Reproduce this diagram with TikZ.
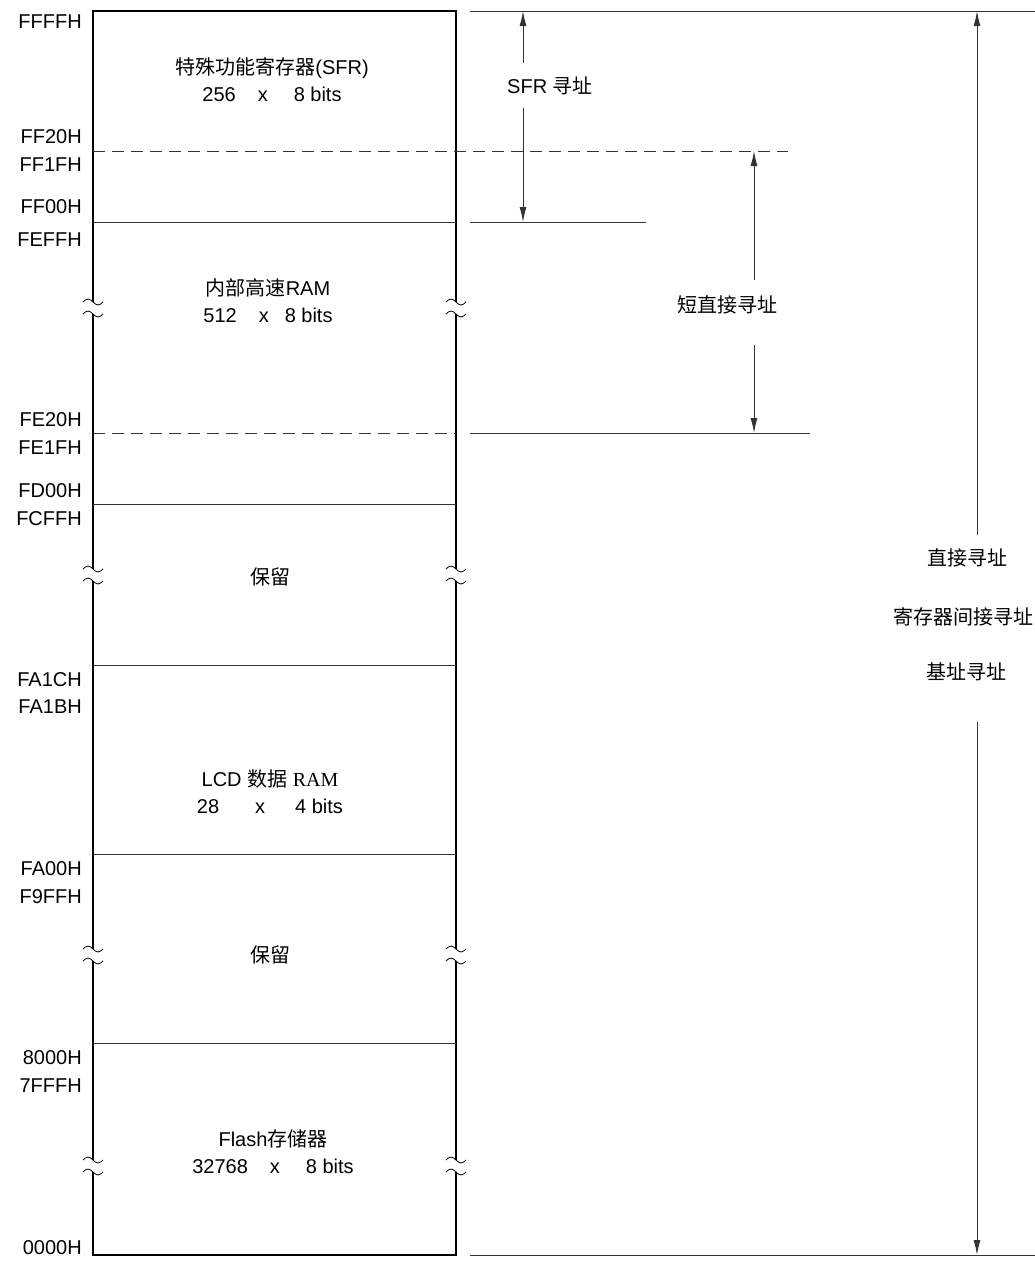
\documentclass[tikz,border=0pt]{standalone}
\usepackage{fontspec}
\setmainfont{Liberation Sans}
\newfontfamily\cjk{Noto Sans CJK SC}
\newfontfamily\serifrm{Liberation Serif}
\usetikzlibrary{arrows.meta}

\tikzset{
  addr/.style={anchor=east, font=\fontsize{20}{22}\selectfont, inner sep=0pt},
  region/.style={font=\fontsize{20}{27}\selectfont, align=center, inner sep=0pt},
  scope lbl/.style={font=\fontsize{20}{22}\selectfont, inner sep=0pt},
  cjk lbl/.style={font=\cjk\fontsize{20}{22}\selectfont, inner sep=0pt},
  thinline/.style={line width=1pt, black!80},
  boxline/.style={line width=2pt, black},
  arr/.style={thinline, -{Latex[length=15pt,width=7pt]}}
}

\newcommand{\brkmark}[2]{%
  \draw[line width=0.8pt] (#1-10,#2-6) sin (#1-5,#2-9) cos (#1,#2-6) sin (#1+5,#2-3) cos (#1+10,#2-6);
  \draw[line width=0.8pt] (#1-10,#2+6) sin (#1-5,#2+3) cos (#1,#2+6) sin (#1+5,#2+9) cos (#1+10,#2+6);
}

\begin{document}
\begin{tikzpicture}[x=1pt,y=-1pt]
    \useasboundingbox (0,0) rectangle (1035,1262);

    % Memory box outline (edges broken at the gaps)
    \draw[boxline] (93,11) -- (456,11);
    \draw[boxline] (93,1255) -- (456,1255);
    \foreach \ex in {93,456} {
      \draw[boxline] (\ex,10) -- (\ex,302);
      \draw[boxline] (\ex,314) -- (\ex,569);
      \draw[boxline] (\ex,581) -- (\ex,949);
      \draw[boxline] (\ex,961) -- (\ex,1160);
      \draw[boxline] (\ex,1172) -- (\ex,1256);
      \foreach \gy in {308,575,955,1166} {
        \brkmark{\ex}{\gy}
      }
    }

    % Region boundaries
    \foreach \by in {222,504,665,854,1043} {
      \draw[thinline] (93,\by) -- (456,\by);
    }
    \draw[thinline, dash pattern=on 12pt off 7pt] (93,151) -- (788,151);
    \draw[thinline, dash pattern=on 12pt off 7pt] (93,433) -- (456,433);

    % Addresses
    \foreach \lbl/\ay in {FFFFH/22, FF20H/137, FF1FH/165, FF00H/207, FEFFH/240,
        FE20H/420, FE1FH/448, FD00H/491, FCFFH/519, FA1CH/680, FA1BH/707,
        FA00H/869, F9FFH/897, 8000H/1058, 7FFFH/1086, 0000H/1248} {
      \node[addr] (a\lbl) at (82,\ay) {\lbl};
    }

    % Region contents
    \node[region] (sfr) at (272,80) {{\cjk 特殊功能寄存器}(SFR)\\256\hspace{22pt}x\hspace{26pt}8 bits};
    \node[region] (iram) at (268,301) {{\cjk 内部高速}RAM\\512\hspace{22pt}x\hspace{16pt}8 bits};
    \node[region, cjk lbl] (rsv1) at (270,577) {保留};
    \node[region] (lcd) at (270,792) {LCD {\cjk 数据} {\serifrm RAM}\\28\hspace{36pt}x\hspace{30pt}4 bits};
    \node[region, cjk lbl] (rsv2) at (270,955) {保留};
    \node[region] (flash) at (273,1152) {Flash{\cjk 存储器}\\32768\hspace{22pt}x\hspace{26pt}8 bits};

    % Addressing range lines
    \draw[thinline] (470,11) -- (1035,11);
    \draw[thinline] (470,222) -- (646,222);
    \draw[thinline] (470,433) -- (810,433);
    \draw[thinline] (470,1255) -- (1035,1255);

    % SFR addressing
    \coordinate (sfrtop) at (523,11);
    \coordinate (sfrbot) at (523,222);
    \node[scope lbl, anchor=west] (sfrlbl) at (507,86) {SFR {\cjk 寻址}};
    \draw[arr] (523,63) -- (sfrtop);
    \draw[arr] (523,108) -- (sfrbot);

    % Short direct addressing
    \coordinate (sdtop) at (754,151);
    \coordinate (sdbot) at (754,433);
    \node[cjk lbl] (sdlbl) at (727,305) {短直接寻址};
    \draw[arr] (754,280) -- (sdtop);
    \draw[arr] (754,345) -- (sdbot);

    % Direct / register indirect / based addressing
    \coordinate (dtop) at (977,11);
    \coordinate (dbot) at (977,1255);
    \node[cjk lbl] (dlbl) at (967,558) {直接寻址};
    \node[cjk lbl] (rilbl) at (963,617) {寄存器间接寻址};
    \node[cjk lbl] (blbl) at (966,672) {基址寻址};
    \draw[arr] (977,535) -- (dtop);
    \draw[arr] (977,722) -- (dbot);
\end{tikzpicture}
\end{document}
